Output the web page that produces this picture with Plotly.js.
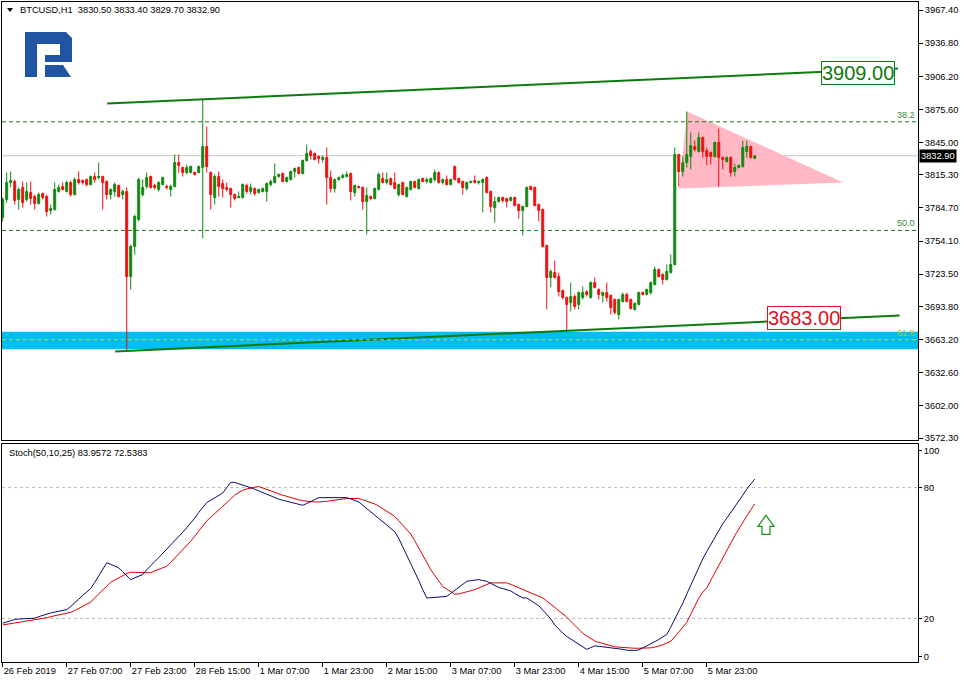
<!DOCTYPE html>
<html><head><meta charset="utf-8">
<script src="https://cdn.plot.ly/plotly-3.0.1.min.js"></script>
<style>html,body{margin:0;padding:0;background:#fff}#chart{width:964px;height:684px}</style>
</head><body><div id="chart"></div>
<script>
// ---- BTCUSD H1 candles (bar 0 = 26 Feb 2019 15:00, one bar per hour) ----
const openP = [3775.9,3792.5,3808.2,3809.1,3792.5,3803.6,3792.5,3798.9,3795.2,3788.8,3798.0,3795.2,3782.3,3783.2,3799.9,3804.5,3799.9,3808.2,3797.1,3810.9,3810.0,3810.9,3806.3,3813.7,3812.8,3813.7,3809.1,3797.1,3799.9,3805.4,3797.1,3799.9,3721.4,3749.1,3774.0,3797.1,3804.5,3813.7,3805.4,3801.7,3806.3,3804.5,3801.7,3804.5,3826.6,3822.0,3817.4,3817.4,3817.4,3817.4,3822.0,3841.4,3817.4,3794.3,3813.7,3807.2,3803.6,3802.6,3797.1,3794.3,3794.3,3805.4,3799.9,3802.6,3798.9,3799.9,3799.9,3806.3,3808.2,3813.7,3816.5,3809.1,3810.9,3818.3,3822.0,3816.5,3828.5,3836.8,3834.9,3832.2,3829.4,3831.2,3812.8,3802.6,3810.9,3812.8,3813.7,3816.5,3798.9,3804.5,3803.6,3790.6,3795.2,3793.4,3801.7,3811.9,3808.2,3811.9,3808.2,3797.1,3808.2,3795.2,3801.7,3809.1,3802.6,3811.9,3809.1,3808.2,3810.9,3817.4,3808.2,3810.9,3806.3,3822.9,3811.9,3809.1,3802.6,3808.2,3810.0,3808.2,3808.2,3812.8,3799.9,3785.1,3790.6,3794.3,3793.4,3791.6,3794.3,3787.9,3782.3,3786.0,3804.5,3803.6,3787.9,3783.2,3750.0,3720.5,3725.1,3721.4,3708.5,3702.0,3697.4,3702.9,3695.6,3702.0,3707.5,3702.0,3715.9,3709.4,3703.9,3706.6,3703.9,3700.2,3686.3,3698.3,3704.8,3700.2,3690.9,3695.6,3706.6,3704.8,3706.6,3714.0,3727.9,3723.3,3718.6,3725.1,3732.5,3834.0,3818.3,3826.6,3832.2,3841.4,3836.8,3849.7,3837.7,3835.9,3832.2,3845.1,3831.2,3827.5,3831.2,3818.3,3822.0,3822.9,3836.8,3841.4,3830.5];
const highP = [3794.3,3817.4,3818.3,3810.9,3803.6,3809.1,3808.2,3809.1,3797.1,3798.9,3798.9,3797.1,3787.9,3808.2,3806.3,3808.2,3810.0,3810.0,3812.8,3818.3,3810.9,3811.9,3814.6,3817.4,3826.6,3814.6,3810.0,3802.6,3808.2,3806.3,3801.7,3803.6,3750.9,3778.6,3812.8,3810.9,3817.4,3814.6,3807.2,3809.1,3813.7,3806.3,3806.3,3834.0,3834.0,3822.9,3824.8,3823.9,3818.3,3823.9,3884.8,3859.9,3818.3,3815.6,3818.3,3810.9,3808.2,3803.6,3798.0,3799.9,3807.2,3807.2,3807.2,3803.6,3802.6,3803.6,3808.2,3810.9,3825.7,3816.5,3817.4,3813.7,3819.2,3822.0,3822.9,3829.4,3843.3,3838.6,3835.9,3833.1,3833.1,3840.5,3819.2,3811.9,3813.7,3816.5,3818.3,3817.4,3806.3,3805.4,3804.5,3803.6,3796.2,3803.6,3817.4,3817.4,3817.4,3812.8,3817.4,3807.2,3809.1,3804.5,3810.0,3810.0,3811.9,3812.8,3812.8,3812.8,3820.2,3818.3,3811.9,3814.6,3811.9,3823.9,3812.8,3810.0,3809.1,3810.0,3814.6,3810.0,3811.9,3813.7,3800.8,3795.2,3795.2,3795.2,3794.3,3795.2,3795.2,3788.8,3786.9,3804.5,3805.4,3804.5,3788.8,3784.2,3750.9,3727.9,3736.2,3725.1,3709.4,3702.9,3715.9,3704.8,3707.5,3712.2,3708.5,3716.8,3720.5,3710.3,3707.5,3715.9,3704.8,3701.1,3701.1,3706.6,3706.6,3701.1,3697.4,3707.5,3707.5,3710.3,3716.8,3730.6,3728.8,3724.2,3732.5,3741.7,3840.5,3834.9,3832.2,3873.7,3854.3,3846.9,3854.3,3850.6,3840.5,3836.8,3846.0,3858.0,3832.2,3832.2,3832.2,3825.7,3824.8,3846.9,3846.9,3842.3,3833.4];
const lowP = [3772.2,3789.7,3803.6,3787.9,3783.2,3785.1,3790.6,3787.9,3783.2,3787.9,3792.5,3776.8,3778.6,3782.3,3798.9,3800.8,3798.9,3795.2,3796.2,3806.3,3806.3,3804.5,3805.4,3808.2,3810.9,3783.2,3792.5,3792.5,3795.2,3794.3,3792.5,3652.2,3709.4,3741.7,3772.2,3795.2,3802.6,3802.6,3801.7,3799.9,3805.4,3801.7,3795.2,3803.6,3817.4,3813.7,3815.6,3816.5,3814.6,3816.5,3756.5,3817.4,3783.2,3787.9,3795.2,3794.3,3799.9,3785.1,3791.6,3793.4,3793.4,3798.0,3797.1,3796.2,3798.0,3798.9,3790.6,3804.5,3807.2,3812.8,3808.2,3808.2,3810.0,3812.8,3815.6,3815.6,3827.5,3829.4,3828.5,3825.7,3826.6,3787.9,3798.9,3798.9,3810.0,3811.9,3812.8,3791.6,3795.2,3802.6,3783.2,3760.2,3791.6,3792.5,3800.8,3807.2,3806.3,3805.4,3801.7,3795.2,3796.2,3794.3,3800.8,3802.6,3801.7,3808.2,3807.2,3807.2,3809.1,3807.2,3806.3,3805.4,3805.4,3810.0,3807.2,3797.1,3800.8,3807.2,3807.2,3806.3,3780.5,3798.0,3780.5,3771.2,3789.7,3789.7,3785.1,3790.6,3786.0,3774.9,3759.2,3785.1,3800.8,3786.0,3772.2,3748.2,3690.9,3711.3,3719.6,3702.9,3700.2,3669.7,3689.1,3690.9,3690.9,3700.2,3702.9,3701.1,3710.3,3700.2,3697.4,3698.3,3686.3,3686.3,3681.7,3697.4,3697.4,3690.9,3690.0,3694.6,3703.9,3703.9,3704.8,3713.1,3720.5,3714.0,3717.7,3724.2,3731.5,3804.5,3813.7,3822.0,3820.2,3836.8,3835.9,3831.2,3823.9,3824.8,3831.2,3804.5,3820.2,3826.6,3813.7,3813.7,3821.1,3822.0,3831.2,3830.3,3829.7];
const closeP = [3792.5,3808.2,3810.0,3791.6,3801.7,3789.7,3799.9,3793.4,3788.8,3797.1,3794.3,3781.4,3784.2,3801.7,3803.6,3801.7,3808.2,3797.1,3810.9,3808.2,3808.2,3806.3,3813.7,3810.9,3813.7,3808.2,3797.1,3801.7,3806.3,3795.2,3799.9,3721.4,3749.1,3776.8,3810.9,3803.6,3812.8,3803.6,3803.6,3808.2,3812.8,3803.6,3804.5,3826.6,3823.9,3817.4,3822.0,3822.9,3815.6,3822.9,3841.4,3822.9,3797.1,3813.7,3804.5,3802.6,3801.7,3797.1,3793.4,3795.2,3806.3,3799.9,3803.6,3798.0,3801.7,3802.6,3807.2,3809.1,3813.7,3815.6,3809.1,3812.8,3818.3,3821.1,3816.5,3828.5,3834.9,3833.1,3829.4,3830.3,3831.2,3812.8,3802.6,3810.9,3812.8,3814.6,3815.6,3799.9,3805.4,3803.6,3790.6,3796.2,3793.4,3802.6,3815.6,3808.2,3810.9,3806.3,3802.6,3806.3,3797.1,3803.6,3809.1,3803.6,3810.9,3809.1,3810.9,3811.9,3817.4,3808.2,3810.9,3806.3,3810.9,3810.9,3808.2,3803.6,3808.2,3809.1,3808.2,3809.1,3810.9,3798.9,3786.0,3790.6,3794.3,3791.6,3790.6,3794.3,3786.9,3782.3,3786.0,3803.6,3801.7,3786.9,3782.3,3749.1,3720.5,3726.0,3720.5,3707.5,3702.0,3695.6,3702.9,3693.7,3706.6,3706.6,3704.8,3715.9,3711.3,3704.8,3706.6,3702.0,3692.8,3688.2,3700.2,3704.8,3698.3,3691.9,3696.5,3706.6,3704.8,3709.4,3715.9,3727.9,3721.4,3718.6,3726.0,3732.5,3834.0,3818.3,3826.6,3834.0,3842.3,3838.6,3849.7,3836.8,3832.2,3832.2,3845.1,3831.2,3829.4,3831.2,3817.4,3822.0,3823.9,3840.5,3841.4,3831.2,3832.9];

// ---- Stochastic (50,10,25) ----
const stochMain = [17.8,18.4,19.0,19.5,19.7,19.8,19.9,20.0,20.1,20.8,21.4,22.1,22.5,22.9,23.3,23.6,24.0,25.5,27.0,28.8,30.5,32.2,33.7,36.5,39.6,42.6,45.5,44.8,44.0,43.2,41.4,39.6,37.8,38.6,39.4,40.1,42.3,44.4,46.1,47.9,49.8,51.6,53.5,55.3,57.4,59.5,61.6,63.7,66.0,68.6,71.0,73.1,74.2,75.3,76.4,77.5,80.0,82.4,82.4,81.8,81.3,80.8,80.1,79.3,78.5,77.7,77.0,76.2,75.5,74.7,74.2,73.8,73.3,72.8,72.3,71.9,72.7,73.6,74.5,75.4,75.4,75.4,75.4,75.4,75.4,75.4,75.4,74.8,74.1,73.4,71.9,70.4,68.9,67.5,66.0,64.5,62.9,61.4,59.8,56.7,52.9,49.2,45.8,41.6,37.4,33.2,29.4,29.5,29.7,29.8,30.0,30.1,31.5,32.9,34.2,35.6,37.0,37.3,37.5,37.8,37.4,37.0,36.1,35.2,34.2,33.7,33.1,32.6,31.4,30.2,29.4,29.4,28.0,27.0,25.8,23.8,21.8,19.8,17.0,15.0,13.3,11.7,10.5,9.3,8.2,7.0,5.8,6.6,7.4,7.2,7.0,6.8,6.6,6.5,6.3,5.8,5.4,5.2,5.3,5.5,6.4,7.4,8.3,9.2,10.3,11.5,12.6,16.0,19.5,22.8,27.0,31.2,35.4,39.6,43.9,47.3,50.7,54.0,57.4,60.8,63.4,66.0,68.6,71.0,73.4,76.5,79.3,81.6,83.96];
const stochSignal = [17.0,17.3,17.5,17.8,18.0,18.3,18.5,18.9,19.1,19.5,19.9,20.3,20.8,21.2,21.5,21.9,22.3,22.8,23.6,24.6,25.7,26.8,27.5,29.4,31.2,33.1,35.0,36.6,37.6,38.6,39.6,40.6,41.2,41.2,41.1,41.0,41.0,40.9,41.8,42.5,43.3,43.9,45.7,47.6,49.4,51.3,53.1,55.4,57.7,60.1,62.4,64.7,66.4,68.0,69.7,71.4,73.1,74.8,76.6,77.7,78.8,79.4,79.9,80.2,80.5,79.8,79.1,78.4,77.7,77.1,76.5,76.0,75.4,74.8,74.4,74.0,73.7,73.5,73.4,73.4,73.4,73.7,74.0,74.3,74.5,74.8,75.0,75.0,75.0,75.0,74.4,73.8,73.1,72.5,71.5,70.4,69.3,68.2,66.8,64.8,62.7,60.7,58.7,55.6,52.2,48.9,45.5,42.4,39.7,37.0,34.6,33.4,32.3,31.1,31.2,31.7,32.2,32.6,33.2,34.0,34.8,35.6,36.3,36.3,36.3,36.3,36.3,35.6,34.8,34.0,33.2,32.5,31.8,31.0,30.2,29.4,28.0,26.6,25.2,23.8,22.4,20.6,18.7,16.9,15.0,13.2,12.0,10.8,9.6,9.0,8.5,7.9,7.3,7.0,6.8,6.6,6.4,6.3,6.3,6.3,6.3,6.3,6.5,6.8,7.2,7.9,8.7,9.5,11.5,13.7,15.9,18.2,21.9,25.6,29.3,32.0,34.0,37.5,41.0,44.5,48.1,51.6,54.7,57.9,61.0,64.2,67.0,69.8,72.54];

// ---- axis labels ----
const timeLabels = ["26 Feb 2019","27 Feb 07:00","27 Feb 23:00","28 Feb 15:00","1 Mar 07:00","1 Mar 23:00","2 Mar 15:00","3 Mar 07:00","3 Mar 23:00","4 Mar 15:00","5 Mar 07:00","5 Mar 23:00"];
const timeLabelBars = [0,16,32,48,64,80,96,112,128,144,160,176];
const priceTicks = [3967.4,3936.8,3906.2,3875.6,3845.0,3815.3,3784.7,3754.1,3723.5,3693.8,3663.2,3632.6,3602.0,3572.3];
const stochTickVals = [2.4,20,80,96.9];
const stochTickText = ["0","20","80","100"];

// ---- drawn objects ----
const fibLevels = [3864.2, 3763.9, 3663.0];
const fibNames = ["38.2", "50.0", "61.8"];
const supportBand = [3654.2, 3670.3];
const upperTrendBars = [26.1, 223.8];
const upperTrendPrices = [3881.1, 3913.4];
const lowerTrendBars = [28.1, 224.2];
const lowerTrendPrices = [3652.2, 3685.4];
const triangleBars = [171.1, 210.1, 169.1];
const trianglePrices = [3873.7, 3808.2, 3802.6];
const lastPrice = 3832.9;
const stochLevels = [20, 80];

const bars = closeP.map((_, i) => i);
const FONT = "Liberation Sans, Arial, sans-serif";
const GREEN = "#108a10", RED = "#ee1111", TL = "#0d7a0d";

const px2x = p => (p - 2) / 916;       // paper x from page pixel (decoration only)
const px2y = p => (662 - p) / 660;     // paper y from page pixel (decoration only)
function paperPath(pts){ return "M" + pts.map(p => px2x(p[0]).toFixed(5) + "," + px2y(p[1]).toFixed(5)).join(" L") + " Z"; }

const traces = [
  {type:"candlestick", x:bars, open:openP, high:highP, low:lowP, close:closeP,
   xaxis:"x", yaxis:"y",
   increasing:{line:{color:GREEN,width:1}, fillcolor:GREEN},
   decreasing:{line:{color:RED,width:1}, fillcolor:RED},
   whiskerwidth:0, hoverinfo:"skip", showlegend:false},
  {type:"scatter", mode:"lines", x:bars, y:stochSignal, xaxis:"x2", yaxis:"y2",
   line:{color:"#e00000", width:1}, hoverinfo:"skip", showlegend:false},
  {type:"scatter", mode:"lines", x:bars, y:stochMain, xaxis:"x2", yaxis:"y2",
   line:{color:"#0a0a70", width:1}, hoverinfo:"skip", showlegend:false}
];

const shapes = [
  {type:"rect", xref:"paper", yref:"y", x0:0, x1:1, y0:supportBand[0], y1:supportBand[1],
   fillcolor:"#00bdf2", line:{width:0}, layer:"below"},
  {type:"path", xref:"x", yref:"y",
   path:"M" + triangleBars.map((b,k)=>b+","+trianglePrices[k]).join(" L") + " Z",
   fillcolor:"#ffb8c4", line:{width:0}, layer:"below"},
  {type:"line", xref:"paper", yref:"y", x0:0, x1:1, y0:lastPrice, y1:lastPrice,
   line:{color:"#c4c4c4", width:1}, layer:"below"},
  {type:"line", xref:"x", yref:"y", x0:upperTrendBars[0], x1:upperTrendBars[1], y0:upperTrendPrices[0], y1:upperTrendPrices[1],
   line:{color:TL, width:2}},
  {type:"line", xref:"x", yref:"y", x0:lowerTrendBars[0], x1:lowerTrendBars[1], y0:lowerTrendPrices[0], y1:lowerTrendPrices[1],
   line:{color:TL, width:2}},
  // logo
  {type:"path", xref:"paper", yref:"paper", path:paperPath([[25,32],[37,32],[37,77],[25,77]]), fillcolor:"#1f55a2", line:{width:0}},
  {type:"path", xref:"paper", yref:"paper", path:paperPath([[37,32],[66,32],[72,38],[72,62],[45,62],[45,55],[60,55],[60,44],[37,44]]), fillcolor:"#1f55a2", line:{width:0}},
  {type:"path", xref:"paper", yref:"paper", path:paperPath([[45,65],[63,65],[71,77],[45,77]]), fillcolor:"#1f55a2", line:{width:0}},
  // header triangle
  {type:"path", xref:"paper", yref:"paper", path:paperPath([[7,8],[13,8],[10,12]]), fillcolor:"#000", line:{width:0}},
  // arrow in stoch
  {type:"path", xref:"x", yref:"y2",
   path:"M190.8,67.3 L192.8,62.2 L191.8,62.2 L191.8,58.5 L189.8,58.5 L189.8,62.2 L188.8,62.2 Z",
   fillcolor:"#ffffff", line:{color:"#1a9a1a", width:1.3}}
];
fibLevels.forEach((v,k)=>{
  shapes.push({type:"line", xref:"paper", yref:"y", x0:0, x1:1, y0:v, y1:v,
    line:{color: k===2 ? "#b8d848" : "#1a7a1a", width:1, dash:"4px,3px"}});
});
stochLevels.forEach(v=>{
  shapes.push({type:"line", xref:"paper", yref:"y2", x0:0, x1:1, y0:v, y1:v,
    line:{color:"#b8b8b8", width:1, dash:"3px,3px"}, layer:"below"});
});

const annotations = [
  {xref:"paper", yref:"paper", x:px2x(18), y:px2y(10), xanchor:"left", yanchor:"middle", showarrow:false,
   text:"BTCUSD,H1  3830.50 3833.40 3829.70 3832.90", font:{family:FONT, size:9.3, color:"#000"}},
  {xref:"paper", yref:"paper", x:px2x(7), y:px2y(453), xanchor:"left", yanchor:"middle", showarrow:false,
   text:"Stoch(50,10,25) 83.9572 72.5383", font:{family:FONT, size:9.3, color:"#000"}},
  {xref:"x", yref:"y", x:213.8, y:3909.3, showarrow:false, text:"3909.00",
   font:{family:FONT, size:20, color:TL}, bgcolor:"#fff", bordercolor:TL, borderwidth:1, borderpad:0},
  {xref:"x", yref:"y", x:200.3, y:3683.1, showarrow:false, text:"3683.00",
   font:{family:FONT, size:20, color:"#e01020"}, bgcolor:"#fff", bordercolor:"#e01020", borderwidth:1, borderpad:0},
  {xref:"paper", yref:"y", x:1, y:lastPrice, xanchor:"left", yanchor:"middle", showarrow:false, text:lastPrice.toFixed(2),
   font:{family:FONT, size:9.3, color:"#fff"}, bgcolor:"#000", borderpad:1, xshift:1}
];
fibLevels.forEach((v,k)=>{
  annotations.push({xref:"paper", yref:"y", x:1, y:v, xanchor:"right", yanchor:"bottom", xshift:-1, showarrow:false,
    text:fibNames[k], font:{family:FONT, size:9, color: k===2 ? "#a8c830" : "#3a8a3a"}});
});

const layout = {
  width:964, height:684, margin:{l:2, r:46, t:2, b:22},
  paper_bgcolor:"#fff", plot_bgcolor:"#fff", showlegend:false,
  font:{family:FONT, size:9.3, color:"#000"},
  xaxis:{domain:[0,1], anchor:"y", range:[-0.175, 228.8], rangeslider:{visible:false},
         showgrid:false, zeroline:false, showticklabels:false, ticks:"",
         showline:true, mirror:true, linecolor:"#000", linewidth:1, fixedrange:true},
  yaxis:{domain:[0.3364, 1], anchor:"x", side:"right", range:[3570.5, 3974.8],
         tickvals:priceTicks, ticktext:priceTicks.map(v=>v.toFixed(2)),
         ticks:"outside", ticklen:4, tickcolor:"#000", showgrid:false, zeroline:false,
         showline:true, mirror:true, linecolor:"#000", linewidth:1,
         tickfont:{family:FONT, size:9.3, color:"#000"}},
  xaxis2:{domain:[0,1], anchor:"y2", matches:"x", range:[-0.175, 228.8],
          tickvals:timeLabelBars, ticktext:timeLabels, ticklabelposition:"outside right",
          ticks:"outside", ticklen:4, tickcolor:"#000", showgrid:false, zeroline:false,
          showline:true, mirror:true, linecolor:"#000", linewidth:1,
          tickfont:{family:FONT, size:9.3, color:"#000"}},
  yaxis2:{domain:[0, 0.3303], anchor:"x2", side:"right", range:[0,100],
          tickvals:stochTickVals, ticktext:stochTickText,
          ticks:"outside", ticklen:3, tickcolor:"#000", showgrid:false, zeroline:false,
          showline:true, mirror:true, linecolor:"#000", linewidth:1,
          tickfont:{family:FONT, size:9.3, color:"#000"}},
  shapes:shapes, annotations:annotations
};

Plotly.newPlot("chart", traces, layout, {staticPlot:true, displayModeBar:false});
</script>
</body></html>
